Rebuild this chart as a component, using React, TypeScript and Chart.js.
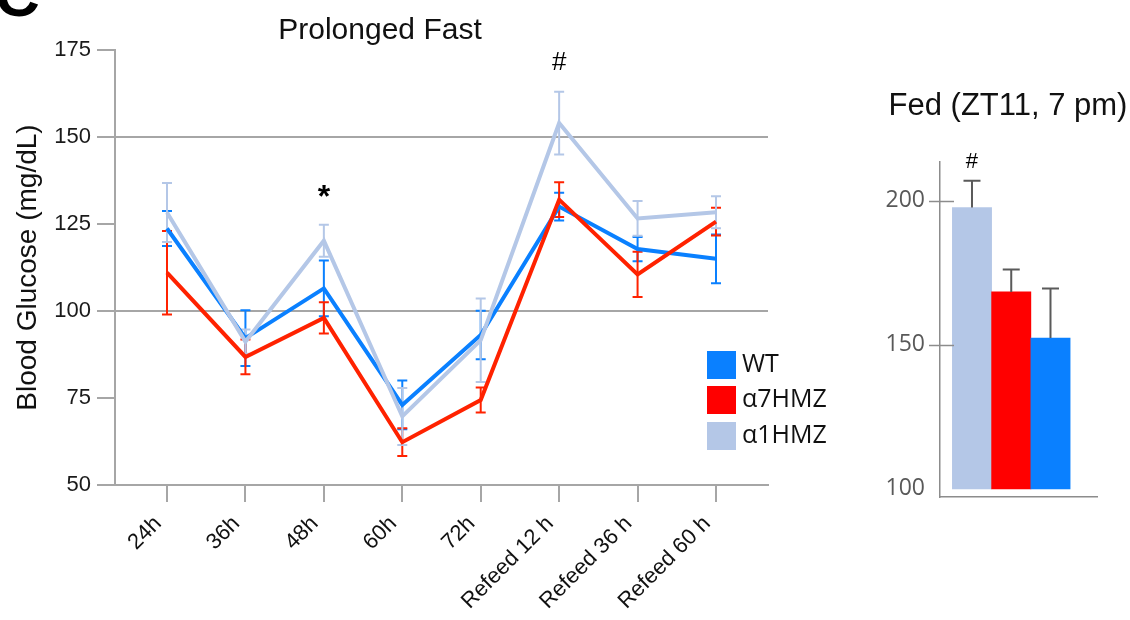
import React, { useEffect, useRef } from 'react';
import { Chart, registerables } from 'chart.js';

Chart.register(...registerables);

// ---------- data: Prolonged Fast ----------
const timepoints = ['24h', '36h', '48h', '60h', '72h', 'Refeed 12 h', 'Refeed 36 h', 'Refeed 60 h'];
const wtMean = [123.7, 92.2, 106.5, 73, 93.1, 130, 117.8, 115];
const wtErr = [5, 8, 8, 7, 7, 4, 3.5, 7];
const a7Mean = [111, 86.8, 98, 62.3, 74.4, 132, 110.5, 125.7];
const a7Err = [12, 5, 4.5, 4, 3.6, 5, 6.5, 4];
const a1Mean = [128.3, 91.2, 120.2, 69.7, 91.6, 154, 126.6, 128.4];
const a1Err = [8.5, 3.5, 4.6, 8.2, 12, 9, 5, 4.6];
const fastYTicks = [50, 75, 100, 125, 150, 175];
const fastGridValues = [100, 150];
const fastMarks = [
  { index: 2, text: '*' },
  { index: 5, text: '#' },
];

// ---------- data: Fed (ZT11, 7 pm) ----------
const fedGroups = ['α1HMZ', 'α7HMZ', 'WT'];
const fedMean = [197.7, 168.4, 152.4];
const fedErr = [9.3, 7.8, 17.2];
const fedYTicks = [100, 150, 200];
const fedMarks = [{ index: 0, text: '#' }];

// ---------- styles ----------
const FONT = '"Liberation Sans", Arial, Helvetica, sans-serif';
const FONT2 = '"Open Sans", "Noto Sans", sans-serif';
const AXIS = '#a6a6a6';
const seriesStyle: Record<string, { line: string; swatch: string }> = {
  WT: { line: '#0a80ff', swatch: '#0a80ff' },
  'α7HMZ': { line: '#ff2200', swatch: '#ff0000' },
  'α1HMZ': { line: '#b4c7e7', swatch: '#b4c7e7' },
};

const series = [
  { label: 'WT', mean: wtMean, err: wtErr, order: 3 },
  { label: 'α7HMZ', mean: a7Mean, err: a7Err, order: 2 },
  { label: 'α1HMZ', mean: a1Mean, err: a1Err, order: 1 },
];

const fastPlugin = {
  id: 'fastDecor',
  beforeDatasetsDraw(chart: any) {
    const { ctx, scales } = chart;
    const x = scales.x;
    const y = scales.y;
    ctx.save();
    ctx.lineWidth = 2;
    series.forEach((s) => {
      ctx.strokeStyle = seriesStyle[s.label].line;
      s.mean.forEach((m, i) => {
        const px = x.getPixelForValue(i);
        const top = y.getPixelForValue(m + s.err[i]);
        const bot = y.getPixelForValue(m - s.err[i]);
        ctx.beginPath();
        ctx.moveTo(px, top);
        ctx.lineTo(px, bot);
        ctx.moveTo(px - 5, top);
        ctx.lineTo(px + 5, top);
        ctx.moveTo(px - 5, bot);
        ctx.lineTo(px + 5, bot);
        ctx.stroke();
      });
    });
    ctx.restore();
  },
  afterDraw(chart: any) {
    const { ctx, scales } = chart;
    const x = scales.x;
    const y = scales.y;
    ctx.save();
    // panel letter
    ctx.fillStyle = '#000';
    ctx.font = `bold 62px ${FONT}`;
    ctx.textAlign = 'left';
    ctx.textBaseline = 'alphabetic';
    ctx.fillText('C', -5, 16);
    // title
    ctx.font = `30px ${FONT}`;
    ctx.textAlign = 'center';
    ctx.fillStyle = '#111';
    ctx.fillText('Prolonged Fast', 380, 39);
    // significance marks
    fastMarks.forEach((mk) => {
      const tops = series.map((s) => s.mean[mk.index] + s.err[mk.index]);
      const py = y.getPixelForValue(Math.max(...tops));
      const px = x.getPixelForValue(mk.index);
      ctx.fillStyle = '#000';
      if (mk.text === '*') {
        ctx.font = `bold 32px ${FONT}`;
        ctx.fillText(mk.text, px, py - 18);
      } else {
        ctx.font = `26px ${FONT}`;
        ctx.fillText(mk.text, px, py - 22);
      }
    });
    // legend
    ctx.textAlign = 'left';
    ctx.textBaseline = 'middle';
    ctx.font = `25px ${FONT2}`;
    const rows = [351, 386, 422];
    series.forEach((s, i) => {
      ctx.fillStyle = seriesStyle[s.label].swatch;
      ctx.fillRect(707, rows[i], 29, 28);
      ctx.fillStyle = '#111';
      ctx.fillText(s.label, 742, rows[i] + 14);
    });
    ctx.restore();
  },
};

const fedPlugin = {
  id: 'fedDecor',
  afterDatasetsDraw(chart: any) {
    const { ctx, scales } = chart;
    const x = scales.x;
    const y = scales.y;
    ctx.save();
    ctx.strokeStyle = '#5a5a5a';
    ctx.lineWidth = 2;
    fedMean.forEach((m, i) => {
      const px = x.getPixelForValue(i);
      const top = y.getPixelForValue(m + fedErr[i]);
      const base = y.getPixelForValue(m);
      ctx.beginPath();
      ctx.moveTo(px, base);
      ctx.lineTo(px, top);
      ctx.moveTo(px - 8.5, top);
      ctx.lineTo(px + 8.5, top);
      ctx.stroke();
    });
    ctx.restore();
  },
  afterDraw(chart: any) {
    const { ctx, scales, chartArea } = chart;
    const x = scales.x;
    const y = scales.y;
    ctx.save();
    // tick marks crossing the axis
    ctx.strokeStyle = '#8c8c8c';
    ctx.lineWidth = 1.5;
    fedYTicks.slice(1).forEach((v) => {
      const py = Math.round(y.getPixelForValue(v)) + 0.5;
      ctx.beginPath();
      ctx.moveTo(chartArea.left - 11, py);
      ctx.lineTo(chartArea.left + 14, py);
      ctx.stroke();
    });
    ctx.fillStyle = '#111';
    ctx.textAlign = 'center';
    ctx.textBaseline = 'alphabetic';
    ctx.font = `31px ${FONT}`;
    ctx.fillText('Fed (ZT11, 7 pm)', 148, 115);
    fedMarks.forEach((mk) => {
      const px = x.getPixelForValue(mk.index);
      const py = y.getPixelForValue(fedMean[mk.index] + fedErr[mk.index]);
      ctx.font = `22px ${FONT}`;
      ctx.fillStyle = '#000';
      ctx.fillText(mk.text, px, py - 13);
    });
    ctx.restore();
  },
};

function FastChart() {
  const ref = useRef<HTMLCanvasElement>(null);
  useEffect(() => {
    const chart = new Chart(ref.current!, {
      type: 'line',
      data: {
        datasets: series.map((s) => ({
          label: s.label,
          data: s.mean.map((v, i) => ({ x: i, y: v })),
          borderColor: seriesStyle[s.label].line,
          backgroundColor: seriesStyle[s.label].line,
          borderWidth: 4,
          pointRadius: 0,
          tension: 0,
          order: s.order,
        })),
      },
      options: {
        responsive: false,
        animation: false,
        layout: { padding: { top: 50, right: 92, left: 0, bottom: 0 } },
        plugins: { legend: { display: false }, tooltip: { enabled: false } },
        scales: {
          x: {
            type: 'linear',
            min: -0.663,
            max: timepoints.length - 1 + 0.663,
            afterBuildTicks: (s: any) => {
              s.ticks = timepoints.map((_, i) => ({ value: i }));
            },
            afterFit: (s: any) => {
              s.height = 135;
            },
            grid: {
              drawOnChartArea: false,
              drawTicks: true,
              tickLength: 17,
              tickColor: AXIS,
              lineWidth: 2,
              color: AXIS,
            },
            border: { display: true, color: AXIS, width: 2 },
            ticks: {
              autoSkip: false,
              minRotation: 45,
              maxRotation: 45,
              padding: 9,
              labelOffset: -9,
              color: '#111',
              font: { family: FONT, size: 22 },
              callback: (v: any) => timepoints[v] ?? '',
            },
          },
          y: {
            type: 'linear',
            min: 50,
            max: 175,
            afterBuildTicks: (s: any) => {
              s.ticks = fastYTicks.map((v) => ({ value: v }));
            },
            afterFit: (s: any) => {
              s.width = 115;
            },
            grid: {
              drawTicks: true,
              tickLength: 18,
              tickColor: AXIS,
              lineWidth: 2,
              color: (c: any) =>
                c.tick && fastGridValues.includes(c.tick.value) ? AXIS : 'rgba(0,0,0,0)',
            },
            border: { display: true, color: AXIS, width: 2 },
            ticks: {
              padding: 6,
              color: '#1a1a1a',
              font: { family: FONT, size: 22 },
            },
            title: {
              display: true,
              text: 'Blood Glucose (mg/dL)',
              color: '#111',
              font: { family: FONT, size: 28 },
              padding: { top: 11, bottom: 0 },
            },
          },
        },
      },
      plugins: [fastPlugin],
    } as any);
    return () => chart.destroy();
  }, []);
  return <canvas ref={ref} width={860} height={620} style={{ position: 'absolute', left: 0, top: 0 }} />;
}

function FedChart() {
  const ref = useRef<HTMLCanvasElement>(null);
  useEffect(() => {
    const chart = new Chart(ref.current!, {
      type: 'bar',
      data: {
        datasets: [
          {
            label: 'Fed',
            data: fedMean.map((v, i) => ({ x: i, y: v })),
            backgroundColor: fedGroups.map((g) => seriesStyle[g].swatch),
            borderWidth: 0,
            base: 100,
            barPercentage: 1,
            categoryPercentage: 1,
          },
        ],
      },
      options: {
        responsive: false,
        animation: false,
        layout: { padding: { top: 162, right: 33, left: 0, bottom: 0 } },
        plugins: { legend: { display: false }, tooltip: { enabled: false } },
        scales: {
          x: {
            type: 'linear',
            offset: false,
            min: -0.815,
            max: fedGroups.length - 1 + 1.185,
            afterBuildTicks: (s: any) => {
              s.ticks = fedGroups.map((_, i) => ({ value: i }));
            },
            afterFit: (s: any) => {
              s.height = 123;
            },
            grid: { display: false, offset: false },
            border: { display: true, color: '#8c8c8c', width: 1.5 },
            ticks: { display: false },
          },
          y: {
            type: 'linear',
            min: 97.2,
            max: 213.5,
            afterBuildTicks: (s: any) => {
              s.ticks = fedYTicks.map((v) => ({ value: v }));
            },
            afterFit: (s: any) => {
              s.width = 80;
            },
            grid: { display: false, drawTicks: false },
            border: { display: true, color: '#8c8c8c', width: 1.5 },
            ticks: {
              padding: 15,
              color: '#595959',
              font: { family: FONT2, size: 23 },
            },
          },
        },
      },
      plugins: [fedPlugin],
    } as any);
    return () => chart.destroy();
  }, []);
  return <canvas ref={ref} width={270} height={620} style={{ position: 'absolute', left: 860, top: 0 }} />;
}

export default function App() {
  return (
    <div style={{ position: 'absolute', left: 0, top: 0, width: 1130, height: 620, background: '#fff', overflow: 'hidden' }}>
      <FastChart />
      <FedChart />
    </div>
  );
}
